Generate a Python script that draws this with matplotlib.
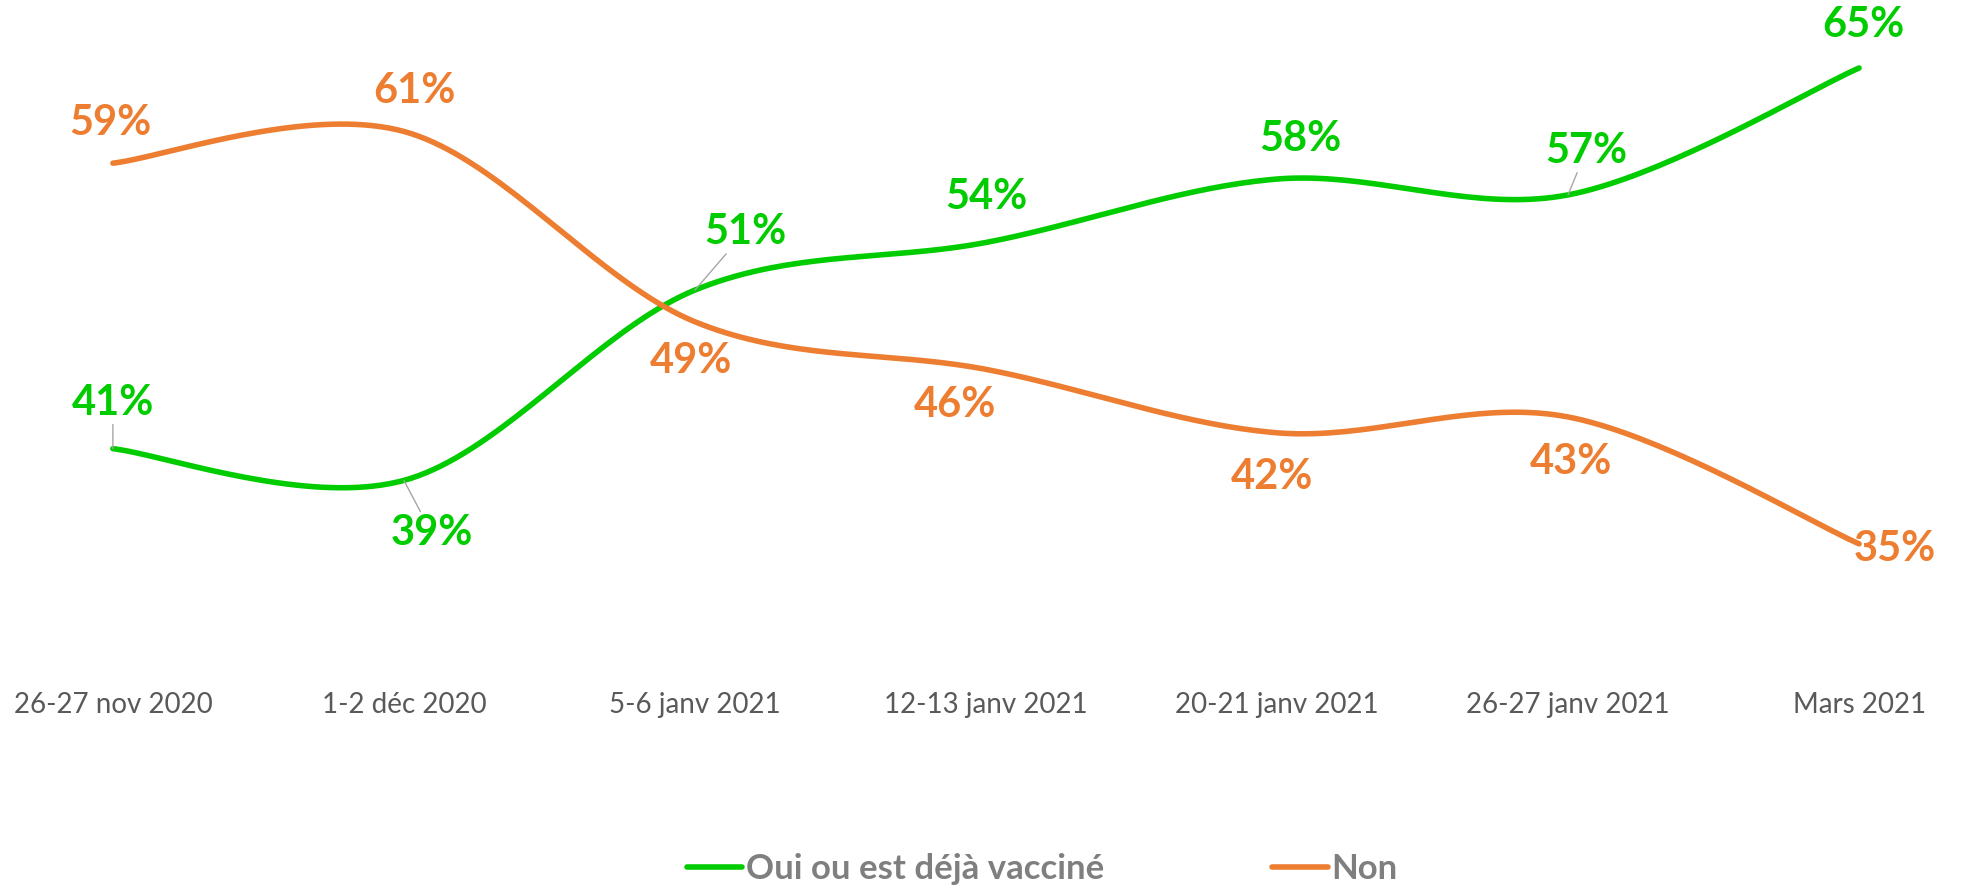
import numpy as np
import matplotlib.pyplot as plt

plt.rcParams['font.family'] = ['Lato', 'DejaVu Sans']

# données
categories = ['26-27 nov 2020', '1-2 déc 2020', '5-6 janv 2021', '12-13 janv 2021',
              '20-21 janv 2021', '26-27 janv 2021', 'Mars 2021']
oui = [41, 39, 51, 54, 58, 57, 65]
non = [59, 61, 49, 46, 42, 43, 35]

# décalage des étiquettes (pixels) et lignes de repère
oui_offsets = [(0, 46), (28, -53), (50, 58), (0, 45), (23, 40), (18, 44), (4, 43)]
oui_leader = [True, True, True, False, False, True, False]
non_offsets = [(-3, 40), (11, 40), (-4, -39), (-31, -36), (-5, -44), (3, -45), (36, -5)]

green = '#00CC00'
orange = '#ED7D31'


def smooth(y, n=40):
    # courbe lissée façon Excel (Bezier / Catmull-Rom)
    x = np.arange(len(y), dtype=float)
    y = np.asarray(y, dtype=float)
    P = np.column_stack([x, y])
    P = np.vstack([P[0], P, P[-1]])
    out = []
    t = np.linspace(0, 1, n)[:, None]
    for i in range(1, len(P) - 2):
        p0, p3 = P[i], P[i + 1]
        c1 = p0 + (P[i + 1] - P[i - 1]) / 6
        c2 = p3 - (P[i + 2] - P[i]) / 6
        seg = ((1 - t) ** 3) * p0 + 3 * ((1 - t) ** 2) * t * c1 + 3 * (1 - t) * t ** 2 * c2 + t ** 3 * p3
        out.append(seg if i == 1 else seg[1:])
    out = np.vstack(out)
    return out[:, 0], out[:, 1]


fig = plt.figure(figsize=(19.7, 8.88), dpi=100)
ax = fig.add_axes([0.0056, 0.2804, 0.9898, 0.6966])

xs, ys = smooth(oui)
ax.plot(xs, ys, color=green, lw=4, solid_capstyle='round', label='Oui ou est déjà vacciné')
xs, ys = smooth(non)
ax.plot(xs, ys, color=orange, lw=4, solid_capstyle='round', label='Non')

for i, v in enumerate(oui):
    ap = dict(arrowstyle='-', color='#A6A6A6', lw=1, shrinkA=0, shrinkB=0) if oui_leader[i] else None
    ax.annotate(f'{v}%', (i, v), xytext=oui_offsets[i], textcoords='offset pixels',
                ha='center', va='center', fontsize=30, fontweight='bold', color=green,
                arrowprops=ap)
for i, v in enumerate(non):
    ax.annotate(f'{v}%', (i, v), xytext=non_offsets[i], textcoords='offset pixels',
                ha='center', va='center', fontsize=30, fontweight='bold', color=orange)

ax.set_xlim(-0.35, 6.35)
ax.set_ylim(29, 68)
ax.set_xticks(range(len(categories)))
ax.set_xticklabels(categories, fontsize=20, color='#595959')
ax.tick_params(axis='x', length=0, pad=38)
ax.set_yticks([])
for s in ax.spines.values():
    s.set_visible(False)

leg = fig.legend(loc='center', bbox_to_anchor=(0.529, 0.021), ncol=2, frameon=False,
                 handlelength=1.6, handletextpad=0.1, columnspacing=4.85,
                 prop={'size': 25, 'weight': 'bold'})
for t in leg.get_texts():
    t.set_color('#7F7F7F')

fig.savefig('out.png', dpi=100)
